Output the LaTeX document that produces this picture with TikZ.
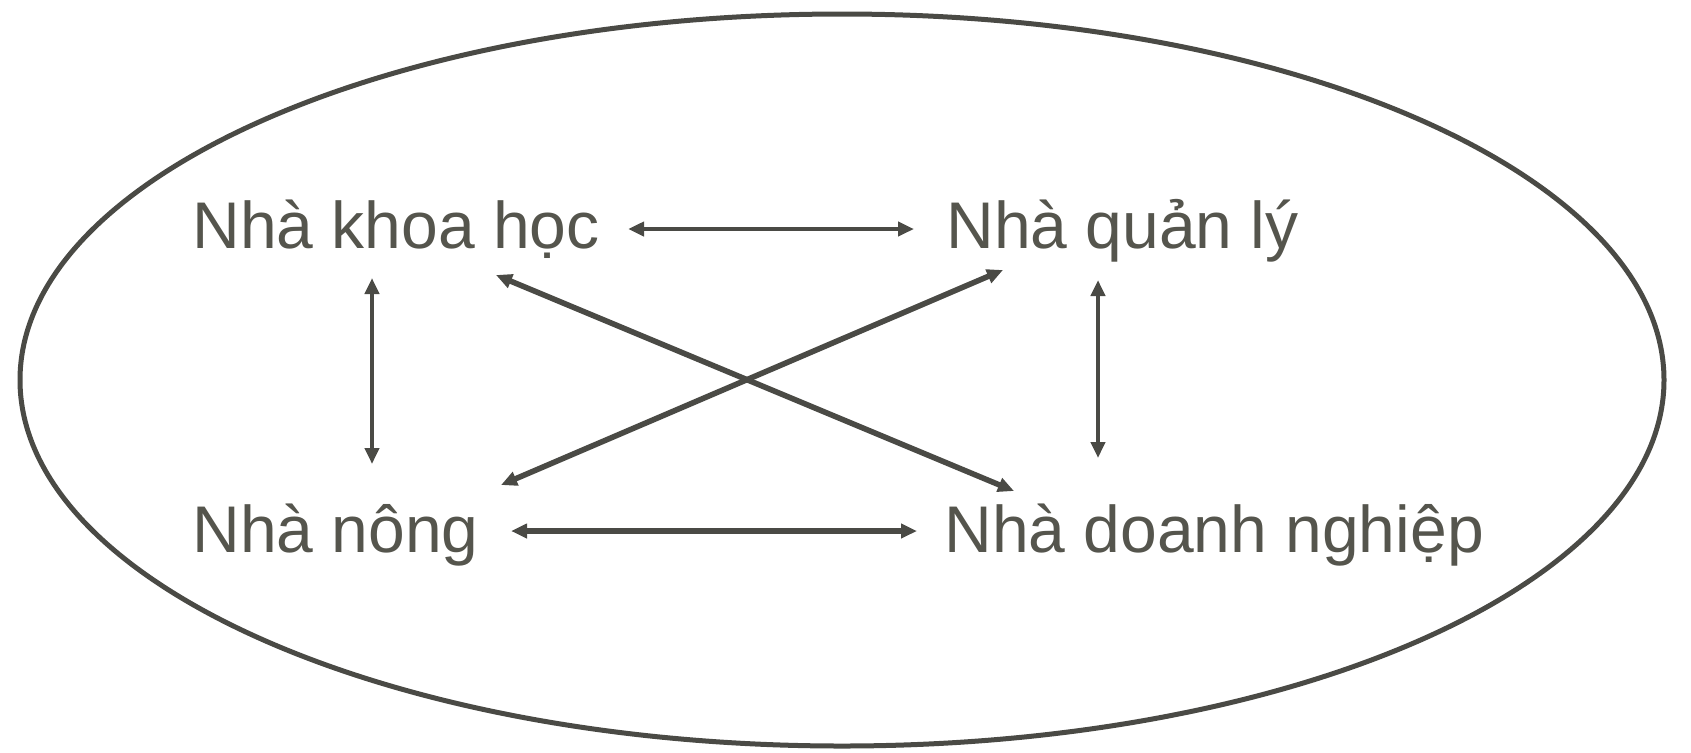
\documentclass[tikz,border=0pt]{standalone}
\usepackage{fontspec}
\setmainfont{Liberation Sans}
\usetikzlibrary{arrows.meta}
\definecolor{ink}{HTML}{4A4A45}
\definecolor{txt}{HTML}{55554D}
\begin{document}
\begin{tikzpicture}[x=0.5pt,y=-0.5pt,
  lbl/.style={inner sep=0pt, anchor=base west, text=txt, font=\fontsize{33pt}{38pt}\selectfont},
  arr/.style={draw=ink, line width=2pt, {Triangle[length=8pt,width=7pt]}-{Triangle[length=8pt,width=7pt]}},
  thick arr/.style={arr, line width=2.8pt}]
\useasboundingbox (0,0) rectangle (1691,752);
% outer ellipse
\draw[ink, line width=2.5pt] (842,380) ellipse [x radius=822, y radius=366];
% the four actors
\node[lbl] (kh)  at (192,248) {Nhà khoa học};
\node[lbl] (nql) at (946,248) {Nhà quản lý};
\node[lbl] (nn)  at (192,552) {Nhà nông};
\node[lbl] (nd)  at (944,552) {Nhà doanh nghiệp};
% horizontal links
\draw[arr] ([xshift=14pt,yshift=9.5pt]kh.base east) -- ([xshift=-16pt,yshift=9.5pt]nql.base west);
\draw[thick arr] ([xshift=16pt,yshift=10.5pt]nn.base east) -- ([xshift=-13.5pt,yshift=10.5pt]nd.base west);
% vertical links
\draw[arr] ([xshift=90pt,yshift=-15pt]kh.base west) -- ([xshift=90pt,yshift=44pt]nn.base west);
\draw[arr] ([xshift=76pt,yshift=-16pt]nql.base west) -- ([xshift=77pt,yshift=47pt]nd.base west);
% diagonal links
\draw[thick arr] ([xshift=152pt,yshift=-13.5pt]kh.base west) -- ([xshift=35pt,yshift=30.5pt]nd.base west);
\draw[thick arr] ([xshift=28.5pt,yshift=-11pt]nql.base west) -- ([xshift=154.5pt,yshift=33.5pt]nn.base west);
\end{tikzpicture}
\end{document}
